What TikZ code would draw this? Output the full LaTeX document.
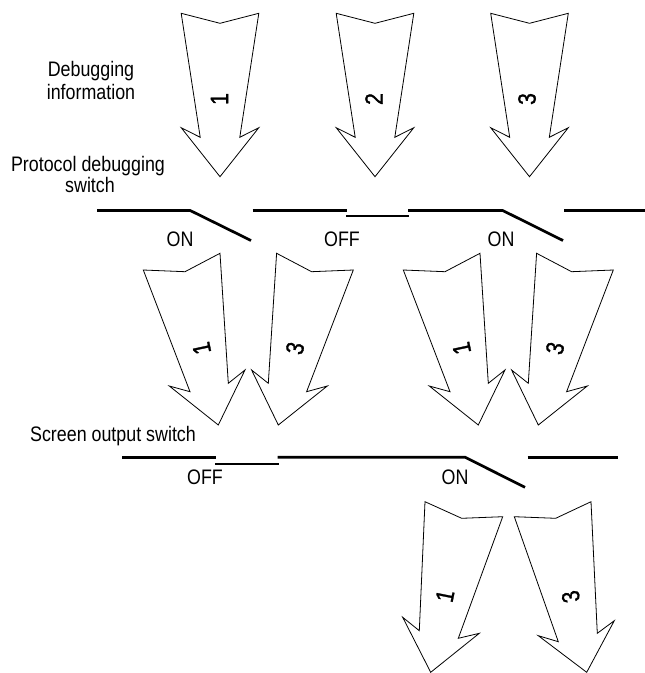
\documentclass[tikz,border=0pt]{standalone}
\usepackage{fontspec}
\setmainfont{Liberation Sans}[FakeStretch=0.85]
\newfontfamily\digitfont{Liberation Sans}[FakeStretch=0.85,FakeBold=1.2]
\begin{document}
\begin{tikzpicture}[x=1pt,y=-1pt,
  arr/.style={draw=black,line width=0.8pt,line join=miter,fill=white},
  sw/.style={draw=black,line width=2.7pt},
  lbl/.style={font=\fontsize{21}{25}\selectfont,anchor=base,inner sep=0pt},
  num/.style={font=\digitfont\fontsize{25}{29}\selectfont,inner sep=0pt},
  downarrow/.pic={
    \draw[arr] (-38.8,-10) -- (0,0) -- (38.8,-10) -- (19.8,114) -- (38.8,104.4)
      -- (0,153.4) -- (-38.8,104.4) -- (-19.8,114) -- cycle;
  }]
\useasboundingbox (0,0) rectangle (645,673);

% ---------- top arrows ----------
\pic at (220,23.3) {downarrow};
\pic at (375,23.3) {downarrow};
\pic at (529.5,23.3) {downarrow};
\node[num,rotate=90] (t1) at (219.5,99) {1};
\node[num,rotate=90] (t2) at (374,99) {2};
\node[num,rotate=90] (t3) at (527,99) {3};

% ---------- left texts ----------
\node[lbl] (dbg1) at (91,76.7) {Debugging};
\node[lbl] (dbg2) at (91,99.3) {information};
\node[lbl] (pds1) at (88,171.7) {Protocol debugging};
\node[lbl] (pds2) at (90,192.7) {switch};
\node[lbl] (sos) at (113,441.5) {Screen output switch};

% ---------- protocol debugging switch ----------
\draw[sw] (97,210.4) -- (190,210.4) -- (251,240.5);
\draw[sw] (252.5,210.4) -- (347,210.4);
\draw[sw] (346,216) -- (409,216);
\draw[sw] (408,210.4) -- (502.5,210.4) -- (563,240.5);
\draw[sw] (564,210.4) -- (645,210.4);
\node[lbl] (on1) at (180,246) {ON};
\node[lbl] (off1) at (342,246) {OFF};
\node[lbl] (on2) at (501,246) {ON};

% ---------- middle arrows ----------
\foreach \dx/\nm in {0/a,260/b}{
  \begin{scope}[xshift=\dx pt]
  \draw[arr] (143.3,270) -- (185,271.7) -- (220,253.3) -- (228.3,383.3) -- (245,370)
    -- (218.3,425) -- (169.3,386) -- (190,391.7) -- cycle;
  \draw[arr] (353.3,270) -- (311.6,271.7) -- (276.6,253.3) -- (268.3,383.3) -- (251.6,370)
    -- (278.3,425) -- (327.3,386) -- (306.6,391.7) -- cycle;
  \node[num,rotate=102] (m1\nm) at (201.7,348.3) {1};
  \node[num,rotate=78] (m3\nm) at (295,348.3) {3};
  \end{scope}
}

% ---------- screen output switch ----------
\draw[sw] (122,457.2) -- (216,457.2);
\draw[sw] (215,464) -- (278.5,464);
\draw[sw] (277.5,457.2) -- (465,457.2) -- (525,487.3);
\draw[sw] (527.5,457.2) -- (618,457.2);
\node[lbl] (off2) at (205,484) {OFF};
\node[lbl] (on3) at (455,484) {ON};

% ---------- bottom arrows ----------
\draw[arr] (425,501.7) -- (461.7,518.3) -- (502.7,516.7) -- (458.3,638.3) -- (479.3,633.3)
  -- (430.7,672.3) -- (402.7,617.3) -- (419.3,630.7) -- cycle;
\draw[arr] (514.3,516.7) -- (555.7,518.3) -- (591,501.7) -- (597.3,633.3) -- (614.3,620.7)
  -- (586.7,672.3) -- (538.3,635.7) -- (558.3,641.7) -- cycle;
\node[num,rotate=78.6] (b1) at (445,596) {1};
\node[num,rotate=101.4] (b3) at (570.7,596.7) {3};
\end{tikzpicture}
\end{document}
